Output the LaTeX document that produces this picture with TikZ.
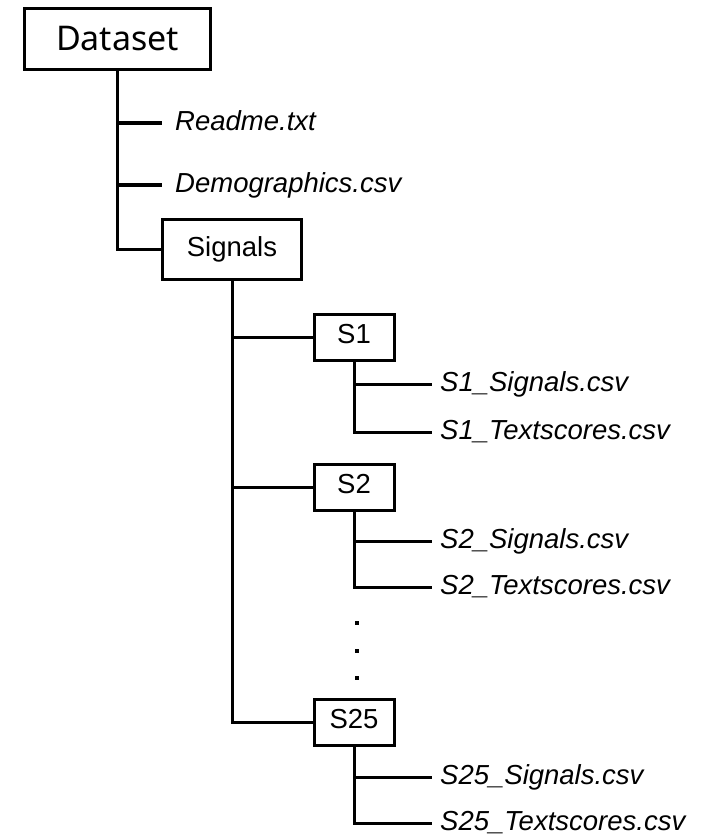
\documentclass[tikz,border=0pt]{standalone}
\usepackage{fontspec}
\setmainfont{Liberation Sans}
\newfontfamily\rootfont{Noto Sans}
\tikzset{
    every node/.style={inner sep=0mm},
    rootbox/.style={draw, line width=3pt, minimum width=186pt, minimum height=61pt, font=\rootfont\fontsize{34}{40}\selectfont},
    dirbox/.style={draw, line width=3pt, text height=19pt, text depth=6pt, font=\fontsize{27.5}{32}\selectfont},
    filelab/.style={anchor=west, inner xsep=13pt, text height=20pt, text depth=6pt, font=\fontsize{27.5}{32}\selectfont\itshape},
    sublab/.style={filelab, inner xsep=8pt},
    dotsq/.style={rectangle, fill, minimum size=4.5pt},
    tree/.style={line width=3.6pt},
    subtree/.style={line width=3pt}
}

\begin{document}
\begin{tikzpicture}[x=1pt, y=-1pt]
        \useasboundingbox (0,0) rectangle (718,838);
        \node (dataset) [rootbox] at (117.5, 39) {Dataset};
        \node (readme) [filelab] at (162, 123) {Readme.txt};
        \node (demo) [filelab] at (162, 185) {Demographics.csv};
        \node (signals) [dirbox, minimum width=139pt, minimum height=60pt] at (232, 249.5) {Signals};
        \node (s1) [dirbox, minimum width=80pt, minimum height=46pt] at (354, 337) {S1};
        \node (s1sig) [sublab] at (432, 384) {S1\_Signals.csv};
        \node (s1txt) [sublab] at (432, 432) {S1\_Textscores.csv};
        \node (s2) [dirbox, minimum width=80pt, minimum height=46pt] at (354, 487) {S2};
        \node (s2sig) [sublab] at (432, 541) {S2\_Signals.csv};
        \node (s2txt) [sublab] at (432, 587) {S2\_Textscores.csv};
        \node (dot1) [dotsq] at (357, 623) {};
        \node (dot2) [dotsq] at (357, 651) {};
        \node (dot3) [dotsq] at (357, 678) {};
        \node (s25) [dirbox, minimum width=80pt, minimum height=46pt] at (354, 722) {S25};
        \node (s25sig) [sublab] at (432, 777) {S25\_Signals.csv};
        \node (s25txt) [sublab] at (432, 823) {S25\_Textscores.csv};
        % top level
        \draw [tree] (dataset.south) |- (readme.west);
        \draw [tree] (dataset.south) |- (demo.west);
        \draw [tree] (dataset.south) |- (signals.west);
        % subjects
        \draw [subtree] (signals.south) |- (s1.west);
        \draw [subtree] (signals.south) |- (s2.west);
        \draw [subtree] (signals.south) |- (s25.west);
        % files per subject
        \draw [subtree] (s1.south) |- (s1sig.west);
        \draw [subtree] (s1.south) |- (s1txt.west);
        \draw [subtree] (s2.south) |- (s2sig.west);
        \draw [subtree] (s2.south) |- (s2txt.west);
        \draw [subtree] (s25.south) |- (s25sig.west);
        \draw [subtree] (s25.south) |- (s25txt.west);
\end{tikzpicture}
\end{document}
